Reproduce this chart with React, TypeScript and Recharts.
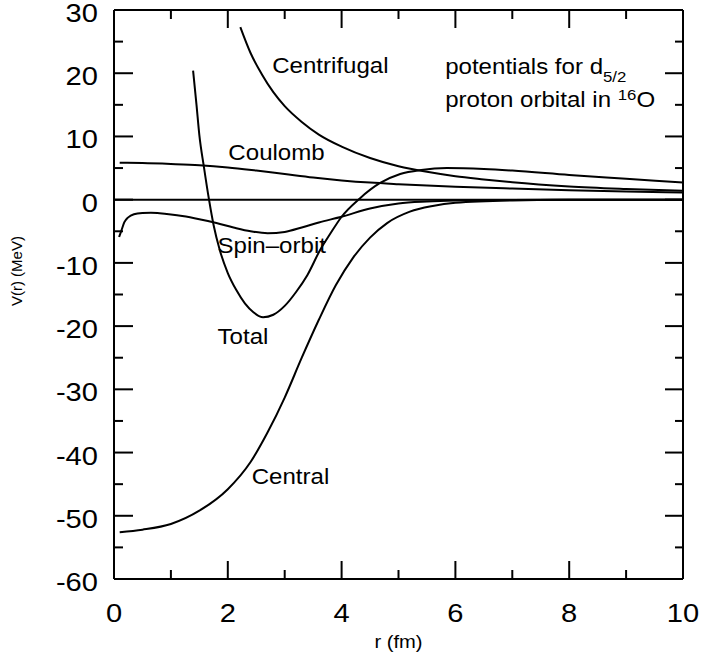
import { LineChart, Line, XAxis, YAxis, ReferenceDot } from 'recharts'

// axis ticks
const xMajor = [0, 2, 4, 6, 8, 10]
const xMinor = [1, 3, 5, 7, 9]
const yMajor = [-60, -50, -40, -30, -20, -10, 0, 10, 20, 30]
const yMinor = [-55, -45, -35, -25, -15, -5, 5, 15, 25]

// curves: [r (fm), V (MeV)]
const centrifugal = [
  [2.22, 27.3], [2.4, 23.2], [2.6, 19.8], [2.8, 17.0], [3.0, 14.8], [3.3, 12.3],
  [3.6, 10.3], [4.0, 8.4], [4.5, 6.6], [5.0, 5.3], [5.5, 4.4], [6.0, 3.7],
  [6.5, 3.2], [7.0, 2.75], [8.0, 2.1], [9.0, 1.7], [10, 1.4]
]
const coulomb = [
  [0.1, 5.85], [0.5, 5.8], [1.0, 5.65], [1.5, 5.45], [2.0, 5.1], [2.5, 4.6],
  [3.0, 4.05], [3.5, 3.5], [4.0, 3.05], [4.5, 2.7], [5.0, 2.45], [6.0, 2.05],
  [7.0, 1.75], [8.0, 1.5], [9.0, 1.3], [10, 1.15]
]
const spinOrbit = [
  [0.09, -5.9], [0.13, -4.9], [0.18, -3.6], [0.25, -2.8], [0.35, -2.3], [0.5, -2.1],
  [0.65, -2.05], [0.8, -2.15], [1.0, -2.35], [1.2, -2.6], [1.5, -3.1], [1.8, -3.7],
  [2.1, -4.4], [2.4, -5.0], [2.7, -5.3], [3.0, -5.1], [3.3, -4.4], [3.6, -3.6],
  [4.0, -2.7], [4.5, -1.4], [5.0, -0.6], [5.5, -0.3], [6.0, -0.15], [7.0, -0.05],
  [8.0, 0], [10, 0]
]
const central = [
  [0.1, -52.6], [0.5, -52.2], [1.0, -51.3], [1.5, -49.2], [2.0, -45.8], [2.4, -41.5],
  [2.7, -36.8], [3.0, -31.3], [3.3, -25], [3.6, -19], [3.9, -13.5], [4.2, -9.2],
  [4.5, -6.0], [4.8, -3.7], [5.2, -1.9], [5.6, -1.0], [6.0, -0.5], [7.0, -0.12],
  [8.0, -0.03], [10, 0]
]
const total = [
  [1.39, 20.4], [1.45, 15], [1.5, 10.2], [1.58, 5.2], [1.67, 0], [1.75, -4],
  [1.86, -8], [2.0, -11.6], [2.15, -14.3], [2.3, -16.4], [2.45, -17.8], [2.62, -18.6],
  [2.8, -18.2], [3.0, -16.8], [3.2, -14.6], [3.4, -11.9], [3.62, -8.0], [3.8, -5.4],
  [4.0, -2.7], [4.32, 0.2], [4.67, 2.6], [5.03, 4.05], [5.4, 4.7], [5.85, 5.0],
  [6.5, 4.85], [7.0, 4.6], [8.0, 3.9], [9.0, 3.3], [10, 2.7]
]
const zeroLine = [[0, 0], [10, 0]]

const curveLabels = [
  { text: 'Centrifugal', r: 2.78, v: 20.0 },
  { text: 'Coulomb', r: 2.01, v: 6.2 },
  { text: 'Spin–orbit', r: 1.82, v: -8.5 },
  { text: 'Total', r: 1.82, v: -22.9 },
  { text: 'Central', r: 2.42, v: -45.0 }
]

const toRows = (pts: number[][]) => pts.map(([r, v]) => ({ r, v }))

const FONT = '"Liberation Sans", Arial, Helvetica, sans-serif'
const SX = 1.12 // the figure is a bit wider than tall, so text is stretched

const BottomTick = (p: any) => {
  const v = p.payload.value
  const major = xMajor.includes(v)
  return (
    <g>
      <line x1={p.x} y1={p.y} x2={p.x} y2={p.y - (major ? 18 : 9)} stroke="#000" strokeWidth={2} />
      {major && (
        <text transform={`translate(${p.x},${p.y + 43}) scale(${SX},1)`} textAnchor="middle"
          fontSize={26} fontFamily={FONT} fill="#000">{v}</text>
      )}
    </g>
  )
}

const TopTick = (p: any) => {
  const major = xMajor.includes(p.payload.value)
  return <line x1={p.x} y1={p.y} x2={p.x} y2={p.y + (major ? 18 : 9)} stroke="#000" strokeWidth={2} />
}

const LeftTick = (p: any) => {
  const v = p.payload.value
  const major = yMajor.includes(v)
  return (
    <g>
      <line x1={p.x} y1={p.y} x2={p.x + (major ? 19 : 9)} y2={p.y} stroke="#000" strokeWidth={2} />
      {major && (
        <text transform={`translate(${p.x - 16},${p.y + 12}) scale(${SX},1)`} textAnchor="end"
          fontSize={26} fontFamily={FONT} fill="#000">{v}</text>
      )}
    </g>
  )
}

const RightTick = (p: any) => {
  const major = yMajor.includes(p.payload.value)
  return <line x1={p.x} y1={p.y} x2={p.x - (major ? 18 : 8)} y2={p.y} stroke="#000" strokeWidth={2} />
}

const XTitle = (p: any) => {
  const vb = p.viewBox
  return (
    <text transform={`translate(${vb.x + vb.width / 2},${vb.y + 69}) scale(${SX},1)`} textAnchor="middle"
      fontSize={18} fontFamily={FONT} fill="#000">r (fm)</text>
  )
}

const axisLine = { stroke: '#000', strokeWidth: 2 }
const xTicks = [...xMajor, ...xMinor].sort((a, b) => a - b)
const yTicks = [...yMajor, ...yMinor].sort((a, b) => a - b)

const series = [centrifugal, coulomb, spinOrbit, central, total]

export default function App() {
  return (
    <div style={{ width: 702, height: 661, overflow: 'hidden' }}>
      <style>{'body{margin:0}'}</style>
      <LineChart width={702} height={661} margin={{ top: 9, right: 18, bottom: 32, left: 54 }}>
        <XAxis xAxisId={0} type="number" dataKey="r" domain={[0, 10]} allowDataOverflow ticks={xTicks}
          interval={0} height={50} tickSize={0} tickMargin={0} tickLine={false} axisLine={axisLine}
          tick={BottomTick} label={{ content: XTitle }} />
        <XAxis xAxisId="top" orientation="top" type="number" dataKey="r" domain={[0, 10]} allowDataOverflow
          ticks={xTicks} interval={0} height={1} tickSize={0} tickMargin={0} tickLine={false}
          axisLine={axisLine} tick={TopTick} />
        <YAxis yAxisId={0} type="number" dataKey="v" domain={[-60, 30]} allowDataOverflow ticks={yTicks}
          interval={0} width={60} tickSize={0} tickMargin={0} tickLine={false} axisLine={axisLine}
          tick={LeftTick} />
        <YAxis yAxisId="right" orientation="right" type="number" dataKey="v" domain={[-60, 30]}
          allowDataOverflow ticks={yTicks} interval={0} width={1} tickSize={0} tickMargin={0}
          tickLine={false} axisLine={axisLine} tick={RightTick} />

        <Line xAxisId="top" yAxisId="right" data={toRows(zeroLine)} dataKey="v" stroke="#000"
          strokeWidth={2} dot={false} isAnimationActive={false} />
        {series.map((s, i) => (
          <Line key={i} data={toRows(s)} dataKey="v" type="monotoneX" stroke="#000" strokeWidth={2}
            dot={false} isAnimationActive={false} />
        ))}

        {/* y axis title, placed left of the frame */}
        <ReferenceDot x={-1.72} y={-11.3} r={0} ifOverflow="visible"
          shape={(p: any) => (
            <text transform={`translate(${p.cx + 6},${p.cy}) rotate(-90)`} textAnchor="middle"
              fontSize={15} fontFamily={FONT} fill="#000">V(r) (MeV)</text>
          )} />

        {curveLabels.map(l => (
          <ReferenceDot key={l.text} x={l.r} y={l.v} r={0} ifOverflow="visible"
            shape={(p: any) => (
              <text transform={`translate(${p.cx},${p.cy}) scale(${SX},1)`} fontSize={21.5}
                fontFamily={FONT} fill="#000">{l.text}</text>
            )} />
        ))}
        <ReferenceDot x={5.82} y={19.9} r={0} ifOverflow="visible"
          shape={(p: any) => (
            <text transform={`translate(${p.cx},${p.cy}) scale(${SX},1)`} fontSize={21.5}
              fontFamily={FONT} fill="#000">
              potentials for d<tspan fontSize={15} dy={8}>5/2</tspan>
            </text>
          )} />
        <ReferenceDot x={5.82} y={14.6} r={0} ifOverflow="visible"
          shape={(p: any) => (
            <text transform={`translate(${p.cx},${p.cy}) scale(${SX},1)`} fontSize={21.5}
              fontFamily={FONT} fill="#000">
              proton orbital in <tspan fontSize={15} dy={-7}>16</tspan><tspan dy={7}>O</tspan>
            </text>
          )} />
      </LineChart>
    </div>
  )
}
